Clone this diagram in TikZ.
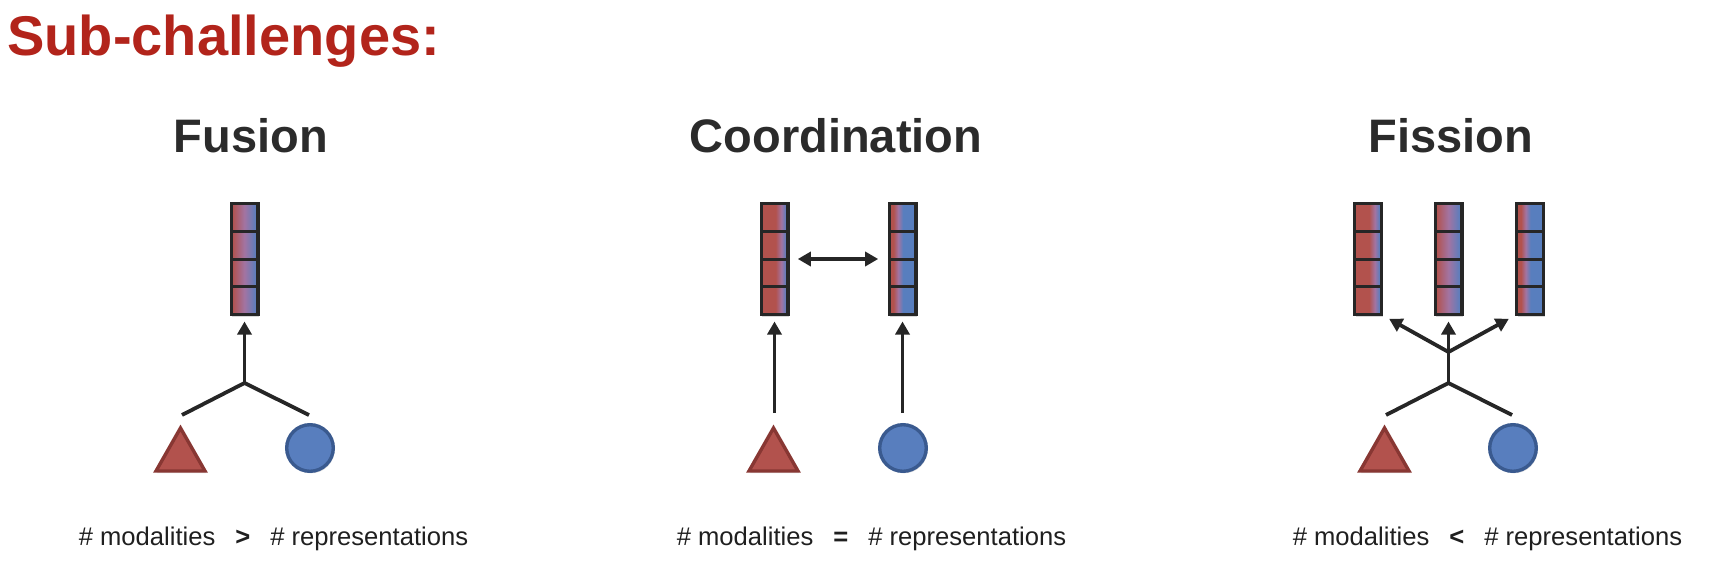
\documentclass[tikz,border=0pt]{standalone}
\usepackage{fontspec}
\setmainfont{Liberation Sans}
\usetikzlibrary{arrows.meta,shadows,calc}
\definecolor{cred}{RGB}{178,82,77}
\definecolor{credd}{RGB}{136,55,51}
\definecolor{cblue}{RGB}{88,126,190}
\definecolor{cblued}{RGB}{58,90,143}
\definecolor{cmid}{RGB}{162,116,162}
\definecolor{cline}{RGB}{38,38,38}
\definecolor{ctitle}{RGB}{178,36,27}
\definecolor{chead}{RGB}{43,43,43}
\pgfdeclarehorizontalshading{vecEven}{100bp}{color(0bp)=(cred); color(27bp)=(cred); color(50bp)=(cmid); color(72bp)=(cblue); color(100bp)=(cblue)}
\pgfdeclarehorizontalshading{vecRed}{100bp}{color(0bp)=(cred); color(52bp)=(cred); color(63bp)=(cmid); color(72bp)=(cblue); color(100bp)=(cblue)}
\pgfdeclarehorizontalshading{vecBlue}{100bp}{color(0bp)=(cred); color(33bp)=(cred); color(42bp)=(cmid); color(51bp)=(cblue); color(100bp)=(cblue)}
\tikzset{
  vecbox/.style={rectangle, draw=cline, line width=1.7pt, minimum width=13.3pt,
    minimum height=55.5pt, inner sep=0pt, outer sep=0pt,
    drop shadow={shadow xshift=0.6pt, shadow yshift=-1pt, opacity=0.3},
    path picture={\foreach \f in {0.25,0.5,0.75}{\draw[line width=1.5pt,cline]
      ($(path picture bounding box.north west)!\f!(path picture bounding box.south west)$) --
      ($(path picture bounding box.north east)!\f!(path picture bounding box.south east)$);}}},
  tri/.style={fill=cred, draw=credd, line width=1.7pt,
    drop shadow={shadow xshift=0.6pt, shadow yshift=-1pt, opacity=0.25}},
  circ/.style={circle, fill=cblue, draw=cblued, line width=1.7pt, minimum size=23.3pt,
    inner sep=0pt, drop shadow={shadow xshift=0.6pt, shadow yshift=-1pt, opacity=0.25}},
  conn/.style={draw=cline, line width=1.9pt},
  arr/.style={conn, -{Triangle[length=6.5pt,width=7pt]}},
  darr/.style={conn, {Triangle[length=6.5pt,width=7pt]}-{Triangle[length=6.5pt,width=7pt]}},
  head/.style={font=\bfseries\fontsize{23.5}{28}\selectfont, text=chead, anchor=base, inner sep=0pt},
  lbl/.style={font=\fontsize{12.8}{15}\selectfont, text=black!88, anchor=base, inner sep=0pt},
}
\begin{document}
\begin{tikzpicture}[x=0.5pt,y=-0.5pt]
\useasboundingbox (0,0) rectangle (1710,578);
% title
\node[anchor=base west, inner sep=0pt, font=\bfseries\fontsize{28}{32}\selectfont, text=ctitle] (title) at (7,55) {Sub-challenges:};
% headings
\node[head] (hfu) at (251,152) {Fusion};
\node[head] (hco) at (836,152) {Coordination};
\node[head] (hfi) at (1451,152) {Fission};
% ---------- Fusion ----------
\node[vecbox, shading=vecEven] (fu) at (244.5,259) {};
\coordinate (fuJ) at (244.5,383);
\coordinate (fuL) at (182,415);
\coordinate (fuR) at (309,415);
\draw[conn] (fuL) -- (fuJ) -- (fuR);
\draw[arr, shorten >=3.5pt] (fuJ) -- (fu.south);
\draw[tri] (180.5,428) coordinate (fuT) -- (205,471) -- (156,471) -- cycle;
\node[circ] (fuC) at (310,448) {};
% ---------- Coordination ----------
\node[vecbox, shading=vecRed] (co1) at (774.5,259) {};
\node[vecbox, shading=vecBlue] (co2) at (902.5,259) {};
\draw[darr, shorten <=5pt, shorten >=5.5pt] (co1.east) -- (co2.west);
\coordinate (coA) at (774.5,413);
\coordinate (coB) at (902.5,413);
\draw[arr, shorten >=3.5pt] (coA) -- (co1.south);
\draw[arr, shorten >=3.5pt] (coB) -- (co2.south);
\draw[tri] (773.5,428) coordinate (coT) -- (798,471) -- (749,471) -- cycle;
\node[circ] (coC) at (903,448) {};
% ---------- Fission ----------
\node[vecbox, shading=vecRed] (fi1) at (1368,259) {};
\node[vecbox, shading=vecEven] (fi2) at (1448.5,259) {};
\node[vecbox, shading=vecBlue] (fi3) at (1530,259) {};
\coordinate (fiJ) at (1448.5,383);
\coordinate (fiU) at (1448.5,352);
\coordinate (fiL) at (1386,415);
\coordinate (fiR) at (1512,415);
\draw[conn] (fiL) -- (fiJ) -- (fiR);
\draw[arr, shorten >=3.5pt] (fiJ) -- (fi2.south);
\draw[arr, shorten >=4.5pt] (fiU) -- (fi1.south east);
\draw[arr, shorten >=4.5pt] (fiU) -- (fi3.south west);
\draw[tri] (1384.5,428) coordinate (fiT) -- (1409,471) -- (1360,471) -- cycle;
\node[circ] (fiC) at (1513,448) {};
% ---------- labels ----------
\node[lbl] (lfu) at (273.5,545) {\# modalities\hspace{10pt}\textbf{>}\hspace{10pt}\# representations};
\node[lbl] (lco) at (871.5,545) {\# modalities\hspace{10pt}\textbf{=}\hspace{10pt}\# representations};
\node[lbl] (lfi) at (1487.5,545) {\# modalities\hspace{10pt}\textbf{<}\hspace{10pt}\# representations};
\end{tikzpicture}
\end{document}
